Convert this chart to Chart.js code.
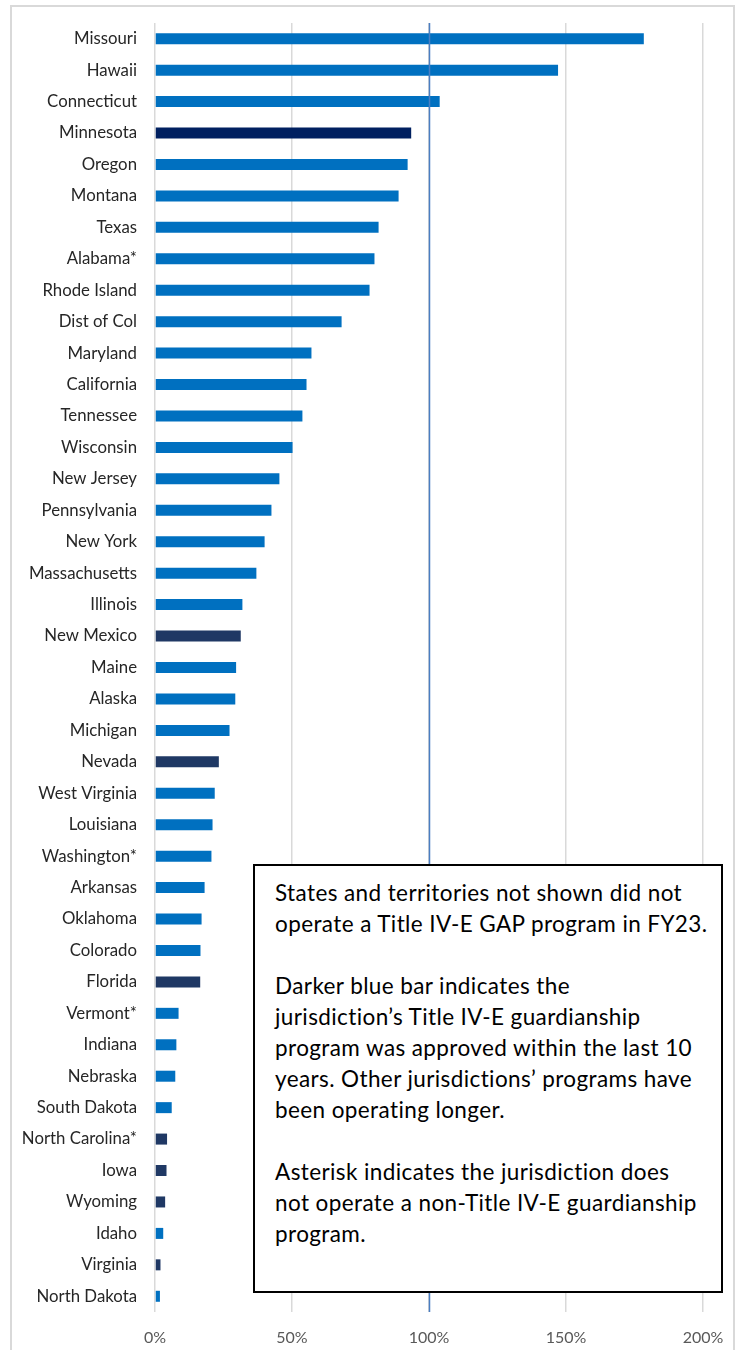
<!DOCTYPE html>
<html>
<head>
<meta charset="utf-8">
<script src="https://cdn.jsdelivr.net/npm/chart.js@4"></script>
<style>
  html, body { margin: 0; padding: 0; background: #ffffff; }
  #wrap { position: relative; width: 743px; height: 1350px; overflow: hidden; }
  #frame {
    position: absolute; left: 10px; top: 5px; width: 725px; height: 1360px;
    border: 2px solid #d9d9d9; box-sizing: border-box;
  }
  canvas { position: absolute; left: 0; top: 0; }
  #note {
    position: absolute; left: 253px; top: 864px; width: 470px; height: 429px;
    box-sizing: border-box; border: 2px solid #000; background: #fff;
    padding: 11px 4px 0 20px;
    font-family: Lato, "Open Sans", sans-serif; font-size: 22.5px; line-height: 31px;
    letter-spacing: 0.4px; color: #000;
  }
  #note p { margin: 0 0 31px 0; white-space: nowrap; }
</style>
</head>
<body>
<div id="wrap">
  <div id="frame"></div>
  <canvas id="chart" width="743" height="1350"></canvas>
  <div id="note">
    <p>States and territories not shown did not<br>operate a Title IV-E GAP program in FY23.</p>
    <p>Darker blue bar indicates the<br>jurisdiction’s Title IV-E guardianship<br>program was approved within the last 10<br>years. Other jurisdictions’ programs have<br>been operating longer.</p>
    <p>Asterisk indicates the jurisdiction does<br>not operate a non-Title IV-E guardianship<br>program.</p>
  </div>
</div>
<script>
// Jurisdictions, top to bottom
const jurisdictions = [
  'Missouri', 'Hawaii', 'Connecticut', 'Minnesota', 'Oregon', 'Montana', 'Texas',
  'Alabama*', 'Rhode Island', 'Dist of Col', 'Maryland', 'California', 'Tennessee',
  'Wisconsin', 'New Jersey', 'Pennsylvania', 'New York', 'Massachusetts', 'Illinois',
  'New Mexico', 'Maine', 'Alaska', 'Michigan', 'Nevada', 'West Virginia', 'Louisiana',
  'Washington*', 'Arkansas', 'Oklahoma', 'Colorado', 'Florida', 'Vermont*', 'Indiana',
  'Nebraska', 'South Dakota', 'North Carolina*', 'Iowa', 'Wyoming', 'Idaho', 'Virginia',
  'North Dakota'
];

// Percent values per jurisdiction
const percentValues = [
  178.4, 147.1, 103.9, 93.5, 92.2, 88.9, 81.6,
  80.1, 78.3, 68.1, 57.1, 55.3, 53.8,
  50.2, 45.4, 42.5, 40.0, 37.0, 31.9,
  31.3, 29.6, 29.3, 27.2, 23.3, 21.8, 21.0,
  20.6, 18.1, 17.0, 16.6, 16.5, 8.6, 7.8,
  7.4, 6.1, 4.4, 4.2, 3.7, 3.0, 2.0,
  1.8
];

// Program approved within the last 10 years (darker bars)
const recentlyApproved = ['Minnesota', 'New Mexico', 'Nevada', 'Florida', 'North Carolina*', 'Iowa', 'Wyoming', 'Virginia'];

// Axis tick values
const tickValues = [0, 50, 100, 150, 200];

const shadeStandard = '#0070C0';
const shadeRecent = '#1F3864';
const shadeDeepest = '#002060';

const barColors = jurisdictions.map(name => {
  if (!recentlyApproved.includes(name)) return shadeStandard;
  return name === 'Minnesota' ? shadeDeepest : shadeRecent;
});

// Vertical reference line at 100%
const referenceLine = {
  id: 'referenceLine',
  afterDatasetsDraw(chart) {
    const { ctx, chartArea, scales } = chart;
    const x = Math.round(scales.x.getPixelForValue(100)) + 0.5;
    ctx.save();
    ctx.strokeStyle = '#4A7EC2';
    ctx.lineWidth = 1.5;
    ctx.beginPath();
    ctx.moveTo(x, chartArea.top);
    ctx.lineTo(x, chartArea.bottom);
    ctx.stroke();
    ctx.restore();
  }
};

new Chart(document.getElementById('chart'), {
  type: 'bar',
  data: {
    labels: jurisdictions,
    datasets: [{
      data: percentValues,
      backgroundColor: barColors,
      borderWidth: 0,
      barPercentage: 0.35,
      categoryPercentage: 1.0
    }]
  },
  options: {
    indexAxis: 'y',
    responsive: false,
    animation: false,
    layout: { padding: { top: 23, right: 40, bottom: 0, left: 0 } },
    plugins: { legend: { display: false }, tooltip: { enabled: false } },
    scales: {
      x: {
        min: 0,
        max: 200,
        afterBuildTicks(scale) { scale.ticks = tickValues.map(v => ({ value: v })); },
        afterFit(scale) {
          scale.height = 38;
          scale.paddingLeft = 0;
          scale.paddingRight = 0;
        },
        grid: { color: '#d9d9d9', lineWidth: 1.5, drawTicks: false },
        border: { display: false },
        ticks: {
          padding: 16,
          color: '#595959',
          font: { family: 'Lato, "Open Sans", sans-serif', size: 16 },
          callback: v => v + '%'
        }
      },
      y: {
        afterFit(scale) {
          scale.width = 155;
          scale.paddingTop = 0;
          scale.paddingBottom = 0;
        },
        grid: { display: false, drawTicks: false },
        border: { display: false },
        ticks: {
          padding: 18,
          autoSkip: false,
          color: '#262626',
          font: { family: 'Lato, "Open Sans", sans-serif', size: 16.8 }
        }
      }
    }
  },
  plugins: [referenceLine]
});
</script>
</body>
</html>
